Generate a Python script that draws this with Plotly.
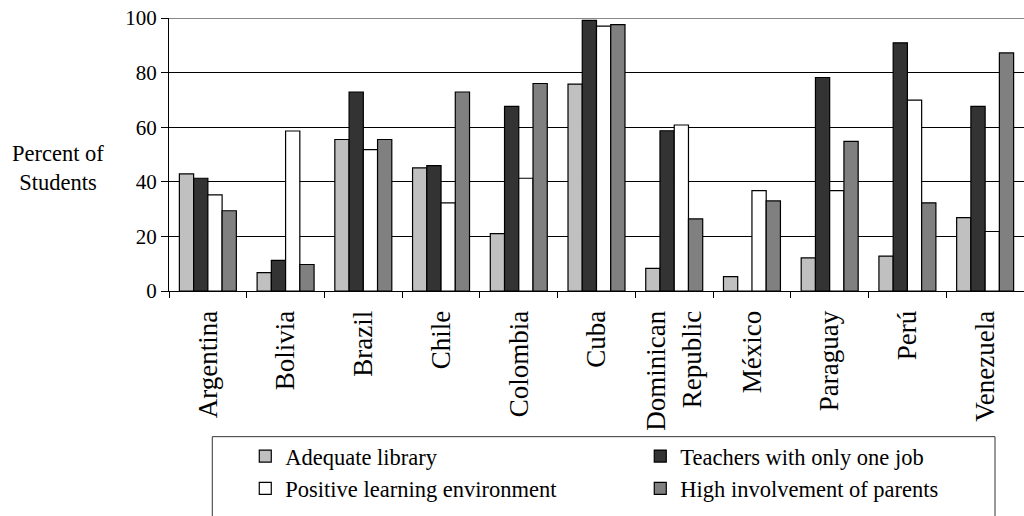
import plotly.graph_objects as go

countries = ["Argentina", "Bolivia", "Brazil", "Chile", "Colombia", "Cuba",
             "Dominican<br>Republic", "México", "Paraguay", "Perú", "Venezuela"]
adequate_library = [42.9, 6.7, 55.5, 45.1, 21.0, 75.8, 8.3, 5.3, 12.1, 12.8, 26.9]
teachers_one_job = [41.3, 11.2, 72.9, 45.9, 67.6, 99.1, 58.7, 0, 78.2, 90.9, 67.6]
positive_env = [35.2, 58.6, 51.8, 32.3, 41.3, 97.0, 60.8, 36.8, 36.8, 69.9, 21.8]
parents_involvement = [29.4, 9.7, 55.5, 72.9, 76.0, 97.6, 26.4, 33.0, 54.8, 32.3, 87.2]

series = [
    ("Adequate library", adequate_library, "#c0c0c0"),
    ("Teachers with only one job", teachers_one_job, "#333333"),
    ("Positive learning environment", positive_env, "#ffffff"),
    ("High involvement of parents", parents_involvement, "#808080"),
]

FONT = "Liberation Serif"

fig = go.Figure()
for name, vals, color in series:
    fig.add_trace(go.Bar(
        name=name, x=countries, y=vals,
        marker=dict(color=color, line=dict(color="black", width=1.2)),
    ))

L, T = 168.7, 17.5
W, H = 1024, 516
PW = W - L
PH = 291.5 - T

fig.update_layout(
    width=W, height=H,
    margin=dict(l=L, r=0, t=T, b=H - 291.5, autoexpand=False),
    paper_bgcolor="white", plot_bgcolor="white",
    barmode="group", bargap=0.267, bargroupgap=0,
    font=dict(family=FONT, size=22, color="black"),
    showlegend=True,
    legend=dict(
        orientation="h", x=(245 - L) / PW, xanchor="left",
        y=(291.5 - 436) / PH, yanchor="top",
        entrywidth=350, entrywidthmode="pixels",
        font=dict(family=FONT, size=22.5, color="black"),
        bgcolor="rgba(0,0,0,0)", borderwidth=0,
        traceorder="normal",
    ),
    xaxis=dict(
        showline=True, linecolor="black", linewidth=1,
        ticks="outside", tickson="boundaries", ticklen=6, tickcolor="black",
        tickangle=-90, tickfont=dict(family=FONT, size=27),
        ticklabelstandoff=8,
    ),
    yaxis=dict(
        range=[0, 100], tickvals=[0, 20, 40, 60, 80, 100],
        showline=True, linecolor="black", linewidth=1,
        ticks="outside", ticklen=7, tickcolor="black",
        showgrid=True, gridcolor="black", gridwidth=1,
        tickfont=dict(family=FONT, size=21),
        zeroline=False,
    ),
    shapes=[
        dict(type="line", xref="paper", yref="y", x0=0, x1=1, y0=100, y1=100,
             line=dict(color="#888888", width=2), layer="above"),
        dict(type="rect", xref="paper", yref="paper",
             x0=(212 - L) / PW, x1=(995 - L) / PW,
             y0=(291.5 - 540) / PH, y1=(291.5 - 437.7) / PH,
             line=dict(color="#333333", width=1), fillcolor="rgba(0,0,0,0)",
             layer="below"),
    ],
    annotations=[
        dict(text="Percent of<br>Students", xref="paper", yref="paper",
             x=(58 - L) / PW, y=(291.5 - 168) / PH, xanchor="center", yanchor="middle",
             showarrow=False, align="center",
             font=dict(family=FONT, size=22.5, color="black")),
    ],
)

fig.write_html("out.html", config={"displayModeBar": False},
               post_script="document.body.style.margin='0';document.body.style.overflow='hidden';")
